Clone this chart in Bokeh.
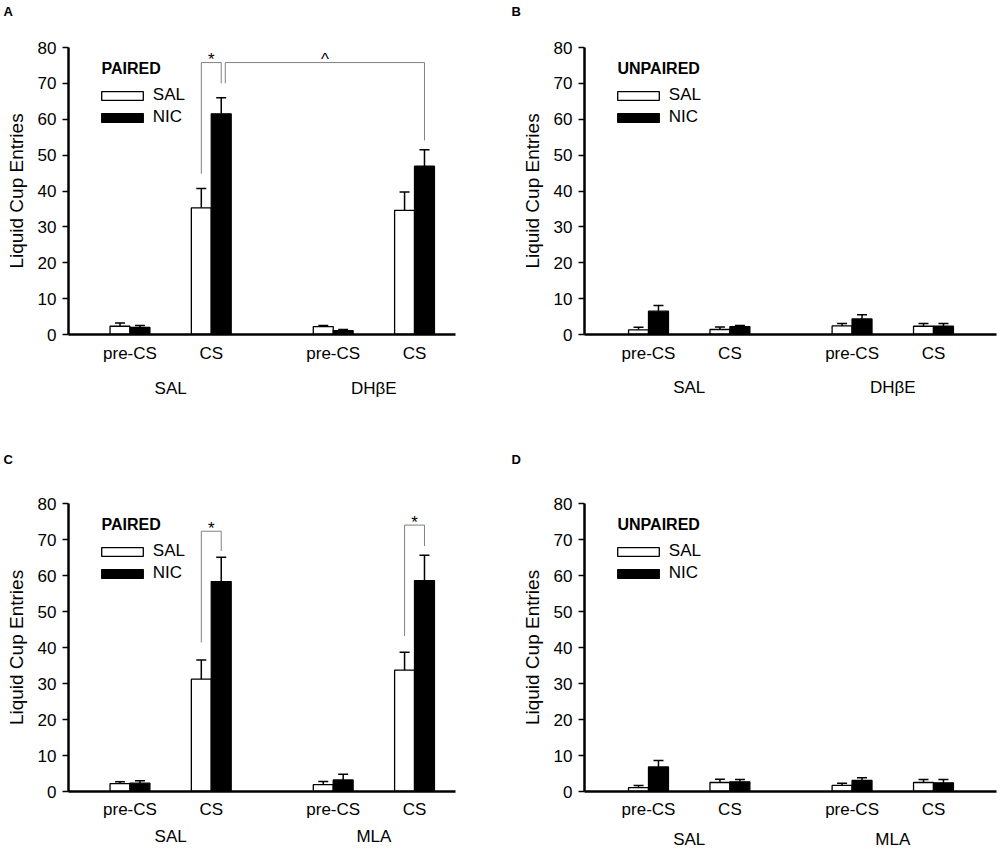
from bokeh.plotting import figure
from bokeh.models import (ColumnDataSource, Range1d, FixedTicker, LinearAxis, Whisker,
                          TeeHead, Legend, LegendItem, Label)
from bokeh.layouts import row, column
from bokeh.embed import file_html
from bokeh.resources import INLINE
from bokeh.core.properties import value

# ---------------- data ----------------
phases = ["pre-CS", "CS"]
groups_top = ["SAL", "DH\u03b2E"]
groups_bottom = ["SAL", "MLA"]
treatments = ["SAL", "NIC"]
y_ticks = [0, 10, 20, 30, 40, 50, 60, 70, 80]
y_label = "Liquid Cup Entries"

# conditions order: group1 pre-CS, group1 CS, group2 pre-CS, group2 CS
A_sal_mean = [2.3, 35.3, 2.2, 34.6]
A_sal_sem = [0.9, 5.4, 0.3, 5.1]
A_nic_mean = [2.0, 61.5, 1.1, 46.9]
A_nic_sem = [0.5, 4.5, 0.3, 4.6]

B_sal_mean = [1.3, 1.4, 2.4, 2.3]
B_sal_sem = [0.7, 0.7, 0.7, 0.75]
B_nic_mean = [6.5, 2.2, 4.35, 2.3]
B_nic_sem = [1.6, 0.3, 1.15, 0.75]

C_sal_mean = [2.2, 31.2, 1.9, 33.7]
C_sal_sem = [0.5, 5.3, 0.9, 5.0]
C_nic_mean = [2.3, 58.3, 3.2, 58.6]
C_nic_sem = [0.7, 6.8, 1.6, 7.0]

D_sal_mean = [1.1, 2.5, 1.7, 2.5]
D_sal_sem = [0.6, 0.9, 0.6, 0.8]
D_nic_mean = [6.8, 2.7, 3.05, 2.4]
D_nic_sem = [1.8, 0.6, 0.75, 0.9]

# significance brackets: (left condition, left treatment, right condition, right treatment,
#                         bracket top, left foot, right foot, mark)
A_sig = [(1, "SAL", 1, "NIC", 75.8, 44.8, 70.0, "*"),
         (1, "NIC", 3, "NIC", 75.8, 70.0, 54.1, "^")]
B_sig = []
C_sig = [(1, "SAL", 1, "NIC", 72.3, 41.4, 66.8, "*"),
         (3, "SAL", 3, "NIC", 74.0, 43.2, 68.2, "*")]
D_sig = []

# ---------------- style ----------------
FONT = "Liberation Sans"
TICK_FS = "17px"
GROUP_STEP = 2.5
BAR_W = 0.245
BAR_OFF = {"SAL": -0.1225, "NIC": 0.1225}


def make_panel(letter, legend_title, groups, sal_m, sal_e, nic_m, nic_e, sig,
               x_start, x_end, width, height, b_left, b_right, b_top, b_bottom,
               phase_standoff, group_standoff, letter_standoff):
    pos = [g * GROUP_STEP + j for g in range(len(groups)) for j in range(len(phases))]
    labels = [ph for g in groups for ph in phases]
    centers = [sum(pos[g * len(phases):(g + 1) * len(phases)]) / len(phases)
               for g in range(len(groups))]
    frame_h = height - b_top - b_bottom

    p = figure(width=width, height=height, x_range=Range1d(x_start, x_end),
               y_range=Range1d(0, 80), output_backend="svg", toolbar_location=None,
               min_border_left=b_left, min_border_right=b_right,
               min_border_top=b_top, min_border_bottom=b_bottom)
    p.outline_line_color = None
    p.xgrid.visible = False
    p.ygrid.visible = False
    p.background_fill_color = "white"

    # panel letter as title (extra blank lines lift it towards the top edge)
    p.title.text = letter + "\n\n"
    p.title.align = "left"
    p.title.vertical_align = "top"
    p.title.offset = -b_left + 3
    p.title.standoff = letter_standoff
    p.title.text_font = FONT
    p.title.text_font_size = "13px"
    p.title.text_font_style = "bold"
    p.title.text_color = "black"

    src_sal = ColumnDataSource(dict(x=[v + BAR_OFF["SAL"] for v in pos], top=sal_m,
                                    upper=[m + e for m, e in zip(sal_m, sal_e)]))
    src_nic = ColumnDataSource(dict(x=[v + BAR_OFF["NIC"] for v in pos], top=nic_m,
                                    upper=[m + e for m, e in zip(nic_m, nic_e)]))
    r_sal = p.vbar(x="x", top="top", bottom=0, width=BAR_W, source=src_sal,
                   fill_color="white", line_color="black", line_width=1.3)
    r_nic = p.vbar(x="x", top="top", bottom=0, width=BAR_W, source=src_nic,
                   fill_color="black", line_color="black", line_width=1.3)
    for src in (src_sal, src_nic):
        p.add_layout(Whisker(base="x", lower="top", upper="upper", source=src,
                             line_color="black", line_width=1.5,
                             upper_head=TeeHead(size=10, line_width=1.5, line_color="black"),
                             lower_head=None))

    # significance brackets
    xs, ys, tx, ty, tt = [], [], [], [], []
    used_right = []
    for (lc, lt, rc, rt, top, lf, rf, mark) in sig:
        xl = pos[lc] + BAR_OFF[lt]
        xr = pos[rc] + BAR_OFF[rt]
        if any(abs(xl - u) < 1e-9 for u in used_right):
            xl += 0.05
        used_right.append(xr)
        xs.append([xl, xl, xr, xr])
        ys.append([lf, top, top, rf])
        tx.append((xl + xr) / 2)
        ty.append(top)
        tt.append(mark)
    if sig:
        p.multi_line(xs=xs, ys=ys, line_color="#808080", line_width=1)
        p.text(x=tx, y=ty, text=tt, text_align="center", text_baseline="alphabetic",
               text_font=value(FONT), text_font_size="17px", text_color="black",
               y_offset=-3)

    # y axis
    ya = p.yaxis[0]
    ya.ticker = FixedTicker(ticks=y_ticks)
    ya.axis_label = y_label
    ya.axis_label_text_font = FONT
    ya.axis_label_text_font_size = "19px"
    ya.axis_label_text_font_style = "normal"
    ya.axis_label_text_color = "black"
    ya.axis_label_standoff = 8
    ya.major_label_text_font = FONT
    ya.major_label_text_font_size = TICK_FS
    ya.major_label_text_color = "black"
    ya.major_label_standoff = 6
    ya.axis_line_width = 2.5
    ya.axis_line_color = "black"
    ya.major_tick_out = 6
    ya.major_tick_in = 0
    ya.major_tick_line_width = 1.5
    ya.minor_tick_out = 0
    ya.minor_tick_in = 0

    # x axis (phases)
    xa = p.xaxis[0]
    xa.ticker = FixedTicker(ticks=pos)
    xa.major_label_overrides = {v: lab for v, lab in zip(pos, labels)}
    xa.major_label_text_font = FONT
    xa.major_label_text_font_size = TICK_FS
    xa.major_label_text_color = "black"
    xa.major_label_standoff = phase_standoff
    xa.axis_line_width = 2.5
    xa.axis_line_color = "black"
    xa.major_tick_out = 0
    xa.major_tick_in = 0
    xa.minor_tick_out = 0
    xa.minor_tick_in = 0

    # second x axis (groups)
    ga = LinearAxis(ticker=FixedTicker(ticks=centers),
                    major_label_overrides={c: g for c, g in zip(centers, groups)},
                    axis_line_color=None, major_tick_line_color=None,
                    minor_tick_line_color=None, major_tick_out=0, major_tick_in=0,
                    minor_tick_out=0, minor_tick_in=0,
                    major_label_text_font=FONT, major_label_text_font_size=TICK_FS,
                    major_label_text_color="black", major_label_standoff=group_standoff)
    p.add_layout(ga, "below")

    # legend
    legend = Legend(items=[LegendItem(label=treatments[0], renderers=[r_sal]),
                           LegendItem(label=treatments[1], renderers=[r_nic])],
                    location=(27.8, frame_h - 37 - 43),
                    glyph_width=52, glyph_height=11, label_standoff=5,
                    label_height=20, spacing=2, padding=0, margin=0,
                    label_text_font=FONT, label_text_font_size=TICK_FS,
                    label_text_color="black",
                    border_line_color=None, background_fill_alpha=0)
    p.add_layout(legend)
    p.add_layout(Label(x=33, y=frame_h - 21, x_units="screen", y_units="screen",
                       text=legend_title, text_font=FONT, text_font_size="16px",
                       text_font_style="bold", text_baseline="middle", text_color="black"))
    return p


H1, H2 = 445, 408
pA = make_panel("A", "PAIRED", groups_top, A_sal_mean, A_sal_sem, A_nic_mean, A_nic_sem,
                A_sig, -0.756, 4.004, 508, H1, 68, 53, 47, 111, 9, 13, -6)
pB = make_panel("B", "UNPAIRED", groups_top, B_sal_mean, B_sal_sem, B_nic_mean, B_nic_sem,
                B_sig, -0.786, 4.274, 492, H1, 76, 4, 47, 111, 9, 12, -6)
pC = make_panel("C", "PAIRED", groups_bottom, C_sal_mean, C_sal_sem, C_nic_mean, C_nic_sem,
                C_sig, -0.756, 4.004, 508, H2, 68, 53, 58, 62, 8, 5, 10)
pD = make_panel("D", "UNPAIRED", groups_bottom, D_sal_mean, D_sal_sem, D_nic_mean, D_nic_sem,
                D_sig, -0.786, 4.274, 492, H2, 76, 4, 58, 62, 8, 8, 10)

layout = column(row(pA, pB), row(pC, pD))
open("out.html", "w").write(file_html(layout, INLINE))
